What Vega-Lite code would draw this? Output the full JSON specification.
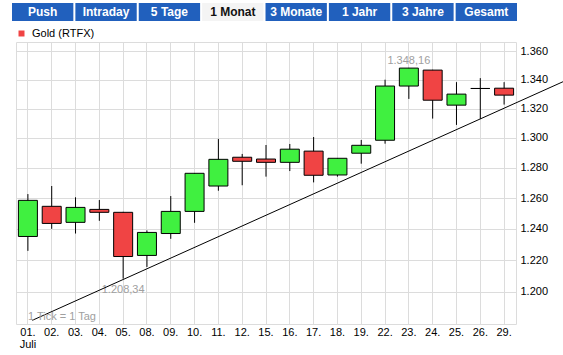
{
  "$schema": "https://vega.github.io/schema/vega-lite/v6.json",
  "padding": {"left": 12, "top": 3, "right": 0, "bottom": 0},
  "spacing": 6,
  "background": "#ffffff",
  "resolve": {"legend": {"opacity": "independent"}},
  "config": {
    "locale": {"number": {"decimal": ",", "thousands": ".", "grouping": [3], "currency": ["", " €"]}},
    "font": "Liberation Sans",
    "axis": {"gridColor": "#dcdcdc", "gridWidth": 1, "gridOpacity": 1, "domain": false, "ticks": false, "labelFont": "Liberation Sans", "labelFontSize": 11, "labelColor": "#000000"},
    "legend": {"labelFont": "Liberation Sans", "labelFontSize": 11, "labelColor": "#000000"}
  },
  "vconcat": [
    {
      "width": 500,
      "height": 18,
      "view": {"stroke": null},
      "data": {"values": [
        {"tab": "Push", "sel": 0},
        {"tab": "Intraday", "sel": 0},
        {"tab": "5 Tage", "sel": 0},
        {"tab": "1 Monat", "sel": 1},
        {"tab": "3 Monate", "sel": 0},
        {"tab": "1 Jahr", "sel": 0},
        {"tab": "3 Jahre", "sel": 0},
        {"tab": "Gesamt", "sel": 0}
      ]},
      "encoding": {
        "x": {"field": "tab", "type": "nominal", "sort": null, "axis": null,
              "scale": {"range": [-4, 501], "paddingInner": 0.032, "paddingOuter": 0}}
      },
      "layer": [
        {"mark": {"type": "bar"},
         "encoding": {"fill": {"condition": {"test": "datum.sel == 1", "value": "#f4f4f4"}, "value": "#2160bd"}}},
        {"mark": {"type": "text", "font": "Liberation Sans", "fontWeight": "bold", "fontSize": 12, "baseline": "middle"},
         "encoding": {"text": {"field": "tab"},
                      "color": {"condition": {"test": "datum.sel == 1", "value": "#111111"}, "value": "#ffffff"}}}
      ]
    },
    {
      "width": 500,
      "height": 282,
      "view": {"stroke": "#dcdcdc"},
      "resolve": {"scale": {"x": "independent"}},
      "layer": [
        {
          "data": {"values": [
            {"day": "01.", "open": 1235.1, "high": 1262.6, "low": 1225.9, "close": 1258.5},
            {"day": "02.", "open": 1254.6, "high": 1267.9, "low": 1240.0, "close": 1243.5},
            {"day": "03.", "open": 1244.2, "high": 1260.5, "low": 1237.0, "close": 1253.9},
            {"day": "04.", "open": 1252.6, "high": 1258.7, "low": 1245.2, "close": 1250.7},
            {"day": "05.", "open": 1250.7, "high": 1251.0, "low": 1208.34, "close": 1222.3},
            {"day": "08.", "open": 1223.0, "high": 1239.0, "low": 1215.7, "close": 1237.7},
            {"day": "09.", "open": 1237.0, "high": 1261.3, "low": 1233.6, "close": 1251.3},
            {"day": "10.", "open": 1251.3, "high": 1276.5, "low": 1243.9, "close": 1276.3},
            {"day": "11.", "open": 1267.9, "high": 1299.3, "low": 1264.8, "close": 1285.6},
            {"day": "12.", "open": 1287.0, "high": 1289.2, "low": 1268.4, "close": 1284.3},
            {"day": "15.", "open": 1285.8, "high": 1295.2, "low": 1274.1, "close": 1283.6},
            {"day": "16.", "open": 1283.6, "high": 1295.9, "low": 1277.8, "close": 1292.4},
            {"day": "17.", "open": 1291.1, "high": 1300.6, "low": 1270.3, "close": 1275.0},
            {"day": "18.", "open": 1275.2, "high": 1286.5, "low": 1274.1, "close": 1286.3},
            {"day": "19.", "open": 1289.7, "high": 1298.6, "low": 1282.7, "close": 1295.0},
            {"day": "22.", "open": 1298.4, "high": 1339.9, "low": 1296.1, "close": 1335.5},
            {"day": "23.", "open": 1335.5, "high": 1348.16, "low": 1326.6, "close": 1348.0},
            {"day": "24.", "open": 1346.6, "high": 1346.8, "low": 1313.1, "close": 1325.7},
            {"day": "25.", "open": 1322.3, "high": 1338.2, "low": 1308.8, "close": 1329.9},
            {"day": "26.", "open": 1333.8, "high": 1341.0, "low": 1312.9, "close": 1333.8},
            {"day": "29.", "open": 1334.0, "high": 1338.2, "low": 1322.7, "close": 1329.2}
          ]},
          "encoding": {
            "x": {"field": "day", "type": "ordinal", "sort": null,
                  "scale": {"domain": ["01.","02.","03.","04.","05.","08.","09.","10.","11.","12.","15.","16.","17.","18.","19.","22.","23.","24.","25.","26.","29."], "paddingInner": 0, "paddingOuter": 0},
                  "axis": {"title": null, "grid": true, "bandPosition": 0.5, "labelAngle": 0, "labelPadding": 2, "labelLineHeight": 12,
                           "labelExpr": "datum.label == '01.' ? ['01.', 'Juli'] : datum.label"}}
          },
          "layer": [
            {
              "mark": {"type": "rule", "color": "#000000", "strokeWidth": 1},
              "encoding": {
                "y": {"field": "low", "type": "quantitative",
                      "scale": {"type": "log", "domain": [1180.2, 1366.4], "nice": false},
                      "axis": {"title": null, "orient": "right", "grid": true, "values": [1200, 1220, 1240, 1260, 1280, 1300, 1320, 1340, 1360], "format": ",.0f", "labelPadding": 4}},
                "y2": {"field": "high"}
              }
            },
            {
              "mark": {"type": "bar", "width": 19, "stroke": "#000000", "strokeWidth": 1},
              "encoding": {
                "y": {"field": "open", "type": "quantitative",
                      "scale": {"type": "log", "domain": [1180.2, 1366.4], "nice": false},
                      "axis": {"title": null, "orient": "right", "grid": true, "values": [1200, 1220, 1240, 1260, 1280, 1300, 1320, 1340, 1360], "format": ",.0f", "labelPadding": 4}},
                "y2": {"field": "close"},
                "fill": {"condition": {"test": "datum.close > datum.open", "value": "#40f040"}, "value": "#f04444"},
                "opacity": {"datum": "Gold (RTFX)", "type": "nominal", "scale": {"range": [1]},
                            "legend": {"orient": "top", "title": null, "symbolType": "square", "symbolSize": 36,
                                       "symbolFillColor": "#f04444", "symbolStrokeColor": "#000000", "symbolStrokeWidth": 1,
                                       "symbolOpacity": 1, "labelOffset": 5, "offset": 3, "padding": 0}}
              }
            },
            {
              "transform": [{"filter": "datum.day == '23.'"}],
              "mark": {"type": "text", "baseline": "bottom", "dy": -2, "color": "#a0a0a0", "fontSize": 11},
              "encoding": {
                "y": {"field": "high", "type": "quantitative",
                      "scale": {"type": "log", "domain": [1180.2, 1366.4], "nice": false},
                      "axis": {"title": null, "orient": "right", "grid": true, "values": [1200, 1220, 1240, 1260, 1280, 1300, 1320, 1340, 1360], "format": ",.0f", "labelPadding": 4}},
                "text": {"field": "high", "type": "quantitative", "format": ",.2f"}
              }
            },
            {
              "transform": [{"filter": "datum.day == '05.'"}],
              "mark": {"type": "text", "baseline": "top", "dy": 5, "color": "#a0a0a0", "fontSize": 11},
              "encoding": {
                "y": {"field": "low", "type": "quantitative",
                      "scale": {"type": "log", "domain": [1180.2, 1366.4], "nice": false},
                      "axis": {"title": null, "orient": "right", "grid": true, "values": [1200, 1220, 1240, 1260, 1280, 1300, 1320, 1340, 1360], "format": ",.0f", "labelPadding": 4}},
                "text": {"field": "low", "type": "quantitative", "format": ",.2f"}
              }
            }
          ]
        },
        {
          "data": {"values": [{"t": 0.185, "price": 1182.45}, {"t": 22.65, "price": 1339.8}]},
          "mark": {"type": "line", "color": "#000000", "strokeWidth": 1, "clip": false},
          "encoding": {
            "x": {"field": "t", "type": "quantitative", "scale": {"domain": [-0.5, 20.5], "nice": false, "zero": false}, "axis": null},
            "y": {"field": "price", "type": "quantitative",
                  "scale": {"type": "log", "domain": [1180.2, 1366.4], "nice": false},
                  "axis": {"title": null, "orient": "right", "grid": true, "values": [1200, 1220, 1240, 1260, 1280, 1300, 1320, 1340, 1360], "format": ",.0f", "labelPadding": 4}}
          }
        },
        {
          "data": {"values": [{"note": "1 Tick = 1 Tag"}]},
          "mark": {"type": "text", "align": "left", "baseline": "middle", "color": "#a0a0a0", "fontSize": 11},
          "encoding": {
            "x": {"datum": 0.0, "type": "quantitative", "scale": {"domain": [-0.5, 20.5], "nice": false, "zero": false}, "axis": null},
            "y": {"datum": 1184.3, "type": "quantitative",
                  "scale": {"type": "log", "domain": [1180.2, 1366.4], "nice": false},
                  "axis": {"title": null, "orient": "right", "grid": true, "values": [1200, 1220, 1240, 1260, 1280, 1300, 1320, 1340, 1360], "format": ",.0f", "labelPadding": 4}},
            "text": {"field": "note"}
          }
        }
      ]
    }
  ]
}
